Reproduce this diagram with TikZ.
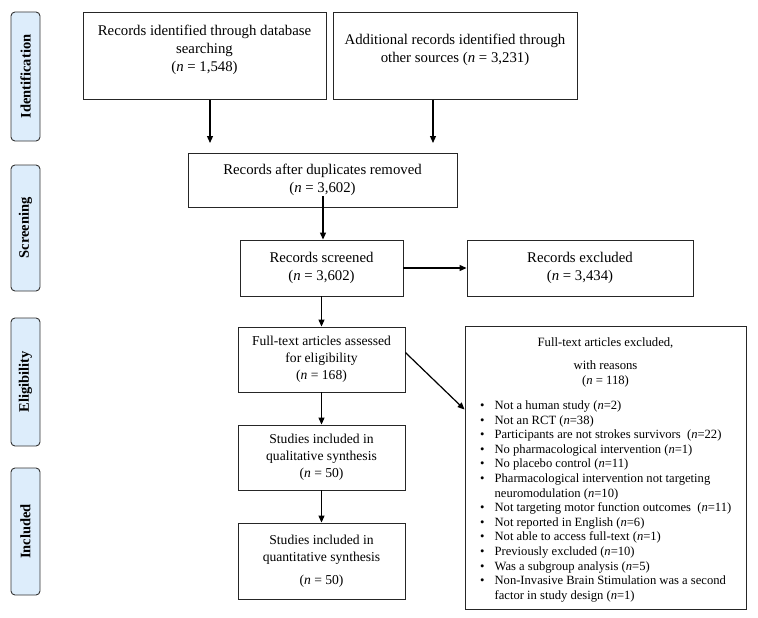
\documentclass[tikz,border=0pt]{standalone}
\usepackage{fontspec}
\setmainfont{Liberation Serif}
\usetikzlibrary{calc,arrows.meta}
\definecolor{sidefill}{RGB}{221,237,251}
\begin{document}
\begin{tikzpicture}[x=1pt,y=-1pt,
  box/.style={draw=black!85,line width=0.9pt,inner sep=0pt,align=center},
  big/.style={font=\fontsize{14.8}{18}\selectfont},
  small/.style={font=\fontsize{13.6}{17}\selectfont},
  side/.style={draw=black!80,line width=0.9pt,rounded corners=4pt,fill=sidefill,
    minimum width=29pt,inner sep=0pt},
  sidetext/.style={rotate=90,font=\fontsize{14.5}{16}\selectfont\bfseries},
  arr/.style={-{Triangle[length=7pt,width=6pt]},line width=1.2pt,black},
]
\useasboundingbox (0,0) rectangle (758,618);
% side labels
\node[side,minimum height=129pt] (sid) at (25.5,76.5) {};
\node[sidetext] (sidt) at (sid.center) {Identification};
\node[side,minimum height=126pt] (sscr) at (25.5,228) {};
\node[sidetext] (sscrt) at (sscr.center) {Screening};
\node[side,minimum height=128pt] (selig) at (25.5,382) {};
\node[sidetext] (seligt) at (selig.center) {Eligibility};
\node[side,minimum height=127pt] (sinc) at (25.5,531.5) {};
\node[sidetext] (sinct) at (sinc.center) {Included};
% boxes
\node[box,big,minimum width=243pt,minimum height=87pt] (db) at (204.5,55.5) {};
\node[big,align=center,anchor=north] (dbt) at (204.5,22) {Records identified through database\\searching\\(\textit{n} = 1,548)};
\node[box,big,minimum width=244pt,minimum height=87pt] (oth) at (455,55.5) {};
\node[big,align=center,anchor=north] (otht) at (455,31) {Additional records identified through\\other sources (\textit{n} = 3,231)};
\node[box,big,minimum width=269pt,minimum height=54pt] (dup) at (322.5,180) {Records after duplicates removed\\(\textit{n} = 3,602)};
\node[box,big,minimum width=163pt,minimum height=56pt] (scr) at (321.5,268) {Records screened\\(\textit{n} = 3,602)};
\node[box,big,minimum width=226pt,minimum height=56pt] (exc) at (580,268) {Records excluded\\(\textit{n} = 3,434)};
\node[box,small,minimum width=167pt,minimum height=65pt] (ft) at (321.5,359.5) {Full-text articles assessed\\for eligibility\\(\textit{n} = 168)};
\node[box,small,minimum width=167pt,minimum height=65pt] (qual) at (321.5,457.5) {Studies included in\\qualitative synthesis\\(\textit{n} = 50)};
\node[box,small,minimum width=167pt,minimum height=76pt] (quan) at (321.5,561) {};
\node[small,align=center,anchor=north] (quant) at (321.5,532) {Studies included in\\quantitative synthesis\\[6pt](\textit{n} = 50)};
% big exclusion box
\node[box,minimum width=281pt,minimum height=283pt] (ex2) at (605.5,467.5) {};
\node[font=\fontsize{12.7}{15}\selectfont,inner sep=0pt] (ex2a) at (605.5,343) {Full-text articles excluded,};
\node[font=\fontsize{12.7}{15}\selectfont,inner sep=0pt,align=center,anchor=north] (ex2b) at (605.5,360) {with reasons\\(\textit{n} = 118)};
\node[font=\fontsize{12.6}{14.6}\selectfont,inner sep=0pt,anchor=north west] (ex2c) at (480,399) {%
\begin{tabular}{@{}l@{\hspace{10pt}}l@{}}
\textbullet & Not a human study (\textit{n}=2)\\
\textbullet & Not an RCT (\textit{n}=38)\\
\textbullet & Participants are not strokes survivors~~(\textit{n}=22)\\
\textbullet & No pharmacological intervention (\textit{n}=1)\\
\textbullet & No placebo control (\textit{n}=11)\\
\textbullet & Pharmacological intervention not targeting\\
 & neuromodulation (\textit{n}=10)\\
\textbullet & Not targeting motor function outcomes~~(\textit{n}=11)\\
\textbullet & Not reported in English (\textit{n}=6)\\
\textbullet & Not able to access full-text (\textit{n}=1)\\
\textbullet & Previously excluded (\textit{n}=10)\\
\textbullet & Was a subgroup analysis (\textit{n}=5)\\
\textbullet & Non-Invasive Brain Stimulation was a second\\
 & factor in study design (\textit{n}=1)
\end{tabular}};
% arrows
\coordinate (dbs) at (210,99.5);
\coordinate (dbe) at (210,143);
\coordinate (oths) at (433,99.5);
\coordinate (othe) at (433,143);
\coordinate (dups) at (323,196);
\draw[arr] (dbs) -- (dbe);
\draw[arr] (oths) -- (othe);
\draw[arr] (dups) -- (dups |- scr.north);
\draw[arr] (scr.east) -- (exc.west);
\draw[arr] (scr.south) -- (ft.north);
\coordinate (ftx) at ($(ft.north east)+(0,26)$);
\coordinate (ex2w) at ($(ex2.north west)+(0,84)$);
\draw[arr] (ftx) -- (ex2w);
\draw[arr] (ft.south) -- (qual.north);
\draw[arr] (qual.south) -- (quan.north);
\end{tikzpicture}
\end{document}
